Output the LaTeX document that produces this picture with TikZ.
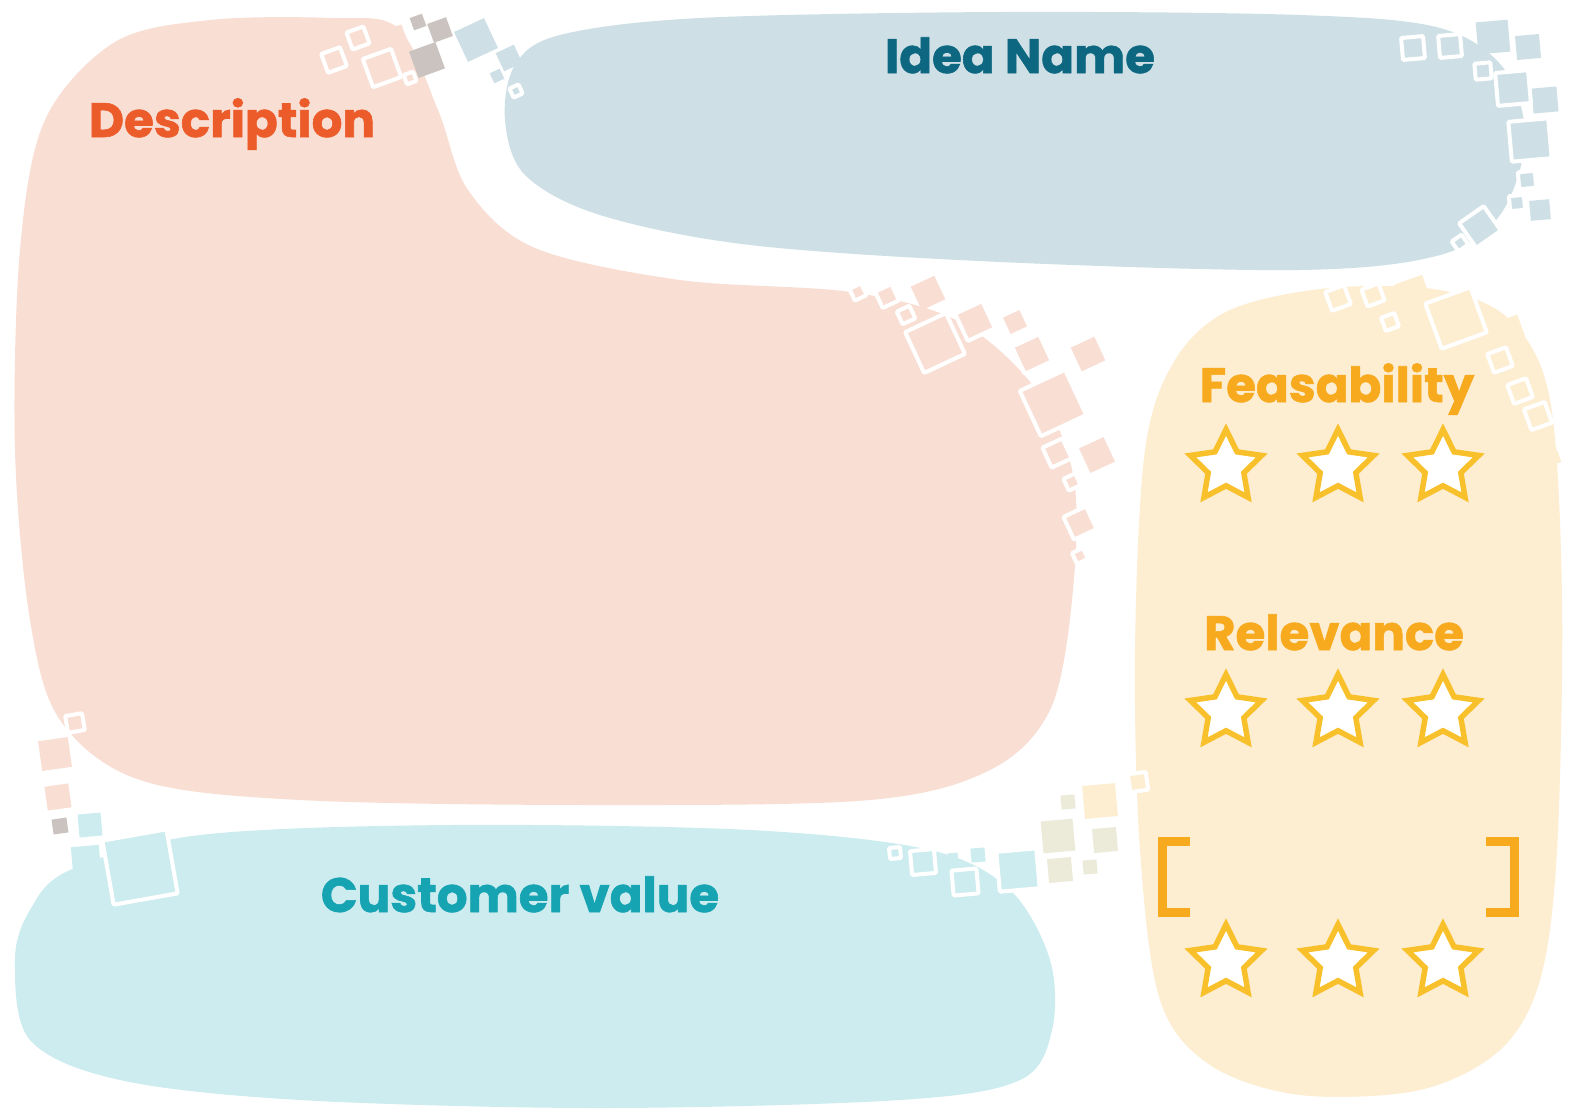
\documentclass[tikz,border=0pt]{standalone}
\usepackage{fontspec}
\setmainfont{Poppins}[BoldFeatures={FakeBold=1.2}]
\usetikzlibrary{shapes.geometric}
\definecolor{pinkbg}{HTML}{F9DED4}
\definecolor{ideabg}{HTML}{CEE0E6}
\definecolor{custbg}{HTML}{CCECEF}
\definecolor{peachbg}{HTML}{FDEDD1}
\definecolor{greysq}{HTML}{CBC3BF}
\definecolor{beigesq}{HTML}{ECEBD9}
\definecolor{descc}{HTML}{EC5B2A}
\definecolor{ideac}{HTML}{0E6780}
\definecolor{custc}{HTML}{16A3B2}
\definecolor{ratec}{HTML}{F8AA1E}
\definecolor{starc}{HTML}{F8C02A}
\tikzset{
  blob/.style={fill=#1, draw=none},
  sqf/.style={fill=#1},
  sqo/.style={fill=#1, draw=white, line width=0.08cm, rounded corners=0.6pt},
  title/.style={font=\bfseries\fontsize{27.5}{33}\selectfont, anchor=base, inner sep=0pt},
  rate/.style={star, star points=5, star point ratio=2.0, minimum size=1.5cm, inner sep=0pt,
    draw=starc, fill=white, line width=0.11cm, line join=miter},
  brack/.style={draw=ratec, line width=0.18cm, line cap=butt, line join=miter}
}
\begin{document}
\begin{tikzpicture}[x=0.02cm,y=-0.02cm]
  \useasboundingbox[fill=white] (0,0) rectangle (1574,1113);
  % background shapes
  \path[blob=pinkbg] plot[smooth cycle, tension=0.55] coordinates {(330,18) (398,28) (438,110) (468,190) (535,248) (680,280) (850,292) (960,322) (1038,392) (1074,480) (1072,600) (1050,710) (990,770) (870,800) (600,805) (300,800) (140,780) (60,720) (30,620) (15,450) (20,250) (45,120) (115,42) (210,20)};
  \path[blob=ideabg] plot[smooth cycle, tension=0.55] coordinates {(560,35) (700,18) (1000,12) (1300,15) (1440,28) (1505,70) (1525,140) (1500,215) (1440,255) (1300,270) (1000,262) (750,245) (600,215) (525,175) (505,120) (515,65)};
  \path[blob=custbg] plot[smooth cycle, tension=0.55] coordinates {(70,870) (200,835) (450,825) (750,830) (930,850) (1010,890) (1050,960) (1052,1030) (1020,1080) (900,1100) (600,1108) (300,1100) (120,1080) (30,1040) (15,960) (30,910)};
  \path[blob=peachbg] plot[smooth cycle, tension=0.55] coordinates {(1230,310) (1330,288) (1440,290) (1510,320) (1550,400) (1562,600) (1557,850) (1540,980) (1500,1050) (1420,1090) (1300,1095) (1210,1065) (1160,1000) (1140,850) (1135,650) (1145,450) (1175,360)};
  % squares
  \foreach \x/\y/\s/\a in {396/36/18/20, 55/754/30/8, 58/797/24/8, 928/293/26/25, 1015/322/18/25, 1088/354/26/25, 1097/455/27/25}
    \path[sqf=pinkbg, shift={(\x,\y)}, rotate=\a] (-\s/2,-\s/2) rectangle (\s/2,\s/2);
  \foreach \x/\y/\s/\a in {334/60/20/20, 358/38/18/20, 382/68/30/20, 410/78/10/20, 75/723/17/10, 858/292/13/25, 887/296/18/25, 906/315/14/25, 935/343/45/25, 975/321/30/25, 1032/354/30/25, 1053/403/50/25, 1057/453/22/25, 1072/482/13/25, 1080/523/25/25, 1080/556/12/25}
    \path[sqo=pinkbg, shift={(\x,\y)}, rotate=\a] (-\s/2,-\s/2) rectangle (\s/2,\s/2);
  \foreach \x/\y/\s/\a in {418/22/13/20, 440/30/20/20, 427/60/28/20, 60/826/15/8}
    \path[sqf=greysq, shift={(\x,\y)}, rotate=\a] (-\s/2,-\s/2) rectangle (\s/2,\s/2);
  \foreach \x/\y/\s/\a in {476/40/33/25, 509/58/20/25, 497/76/11/25, 1493/37/32/5, 1528/47/24/5, 1545/100/25/5, 1540/210/20/5}
    \path[sqf=ideabg, shift={(\x,\y)}, rotate=\a] (-\s/2,-\s/2) rectangle (\s/2,\s/2);
  \foreach \x/\y/\s/\a in {516/91/10/25, 1413/48/22/5, 1450/46/22/5, 1483/71/16/5, 1513/88/33/5, 1530/140/40/5, 1527/180/17/5, 1517/203/15/5, 1480/227/30/35, 1460/243/12/35}
    \path[sqo=ideabg, shift={(\x,\y)}, rotate=\a] (-\s/2,-\s/2) rectangle (\s/2,\s/2);
  \foreach \x/\y/\s/\a in {1413/294/30/20, 1510/330/24/20, 1530/366/13/20, 1553/458/13/20, 1100/801/33/5}
    \path[sqf=peachbg, shift={(\x,\y)}, rotate=\a] (-\s/2,-\s/2) rectangle (\s/2,\s/2);
  \foreach \x/\y/\s/\a in {1338/298/20/20, 1373/295/18/20, 1390/322/14/20, 1456/318/48/20, 1500/360/20/20, 1520/391/20/20, 1538/416/22/20, 1138/782/18/8}
    \path[sqo=peachbg, shift={(\x,\y)}, rotate=\a] (-\s/2,-\s/2) rectangle (\s/2,\s/2);
  \foreach \x/\y/\s/\a in {90/825/23/5, 86/860/28/5, 953/858/10/5, 978/855/14/5}
    \path[sqf=custbg, shift={(\x,\y)}, rotate=\a] (-\s/2,-\s/2) rectangle (\s/2,\s/2);
  \foreach \x/\y/\s/\a in {140/867/65/10, 895/853/11/5, 923/862/24/5, 965/882/25/5, 1018/870/40/5}
    \path[sqo=custbg, shift={(\x,\y)}, rotate=\a] (-\s/2,-\s/2) rectangle (\s/2,\s/2);
  \foreach \x/\y/\s/\a in {1058/836/32/5, 1068/802/14/5, 1105/840/24/5, 1060/870/24/5, 1090/867/14/5}
    \path[sqf=beigesq, shift={(\x,\y)}, rotate=\a] (-\s/2,-\s/2) rectangle (\s/2,\s/2);
  % titles
  \node[title, text=descc] (desc) at (232,137) {Description};
  \node[title, text=ideac] (idea) at (1020,73) {Idea Name};
  \node[title, text=custc] (cust) at (520,912) {Customer value};
  \node[title, text=ratec] (feas) at (1337,402) {Feasability};
  \node[title, text=ratec] (relv) at (1334,650) {Relevance};
  % stars
  \foreach \r/\y in {1/467, 2/712, 3/962} {
    \node[rate] (st\r a) at (1226,\y) {};
    \node[rate] (st\r b) at (1338,\y) {};
    \node[rate] (st\r c) at (1443,\y) {};
  }
  \draw[brack] (1190,841) -- (1162,841) -- (1162,912) -- (1190,912);
  \draw[brack] (1486,841) -- (1514,841) -- (1514,912) -- (1486,912);
\end{tikzpicture}
\end{document}
